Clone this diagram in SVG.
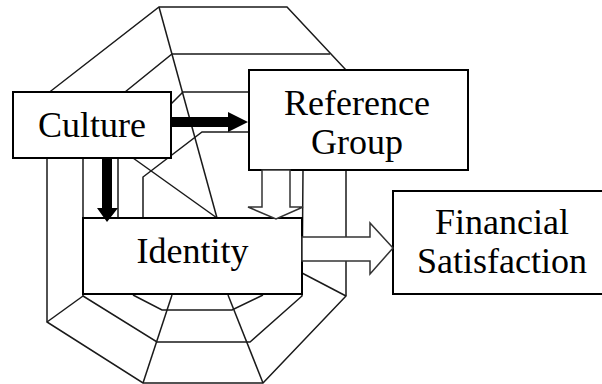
<svg xmlns="http://www.w3.org/2000/svg" width="602" height="384" viewBox="0 0 602 384">
<defs>
<style>
.web{fill:none;stroke:#1a1a1a;stroke-width:1.5;stroke-linejoin:miter}
.box{fill:#fff;stroke:#000;stroke-width:2}
.lbl{font-size:36px;fill:#000;text-anchor:middle}
.solid{fill:#000;stroke:none}
.hollow{fill:#fff;stroke:#333;stroke-width:1.5;stroke-linejoin:miter}
</style>
</defs>
<rect width="602" height="384" fill="#fff"/>
<g id="web">
<polygon class="web" points="159,7 287,7 346,70 346,296 263,383 143,383 47,322 47,94"/>
<polyline class="web" points="330,54 172,54 83,126 83,296 157,342 250,342 302,296 303,170"/>
<polyline class="web" points="249,92 183,92 172,103 118,152 118,218"/>
<polyline class="web" points="133,295 162,310 232,310 263,295"/>
<polyline class="web" points="249,132 202,132 143,177 143,218"/>
<line class="web" x1="159" y1="7" x2="217" y2="218"/>
<line class="web" x1="133" y1="158" x2="217" y2="218"/>
<line class="web" x1="172" y1="295" x2="143" y2="383"/>
<line class="web" x1="228" y1="295" x2="263" y2="383"/>
<line class="web" x1="83" y1="296" x2="47" y2="322"/>
<line class="web" x1="302" y1="273" x2="346" y2="296"/>
</g>
<g id="culture">
<rect class="box" x="13" y="92" width="158" height="66"/>
<text class="lbl" font-family="'Liberation Serif', 'Times New Roman', 'DejaVu Serif', serif" x="92" y="137">Culture</text>
</g>
<g id="reference-group">
<rect class="box" x="249" y="70" width="219" height="100"/>
<text class="lbl" font-family="'Liberation Serif', 'Times New Roman', 'DejaVu Serif', serif" x="357" y="115">Reference</text>
<text class="lbl" font-family="'Liberation Serif', 'Times New Roman', 'DejaVu Serif', serif" x="357" y="154">Group</text>
</g>
<g id="identity">
<rect class="box" x="83" y="218" width="219" height="76"/>
<text class="lbl" font-family="'Liberation Serif', 'Times New Roman', 'DejaVu Serif', serif" x="192.5" y="263">Identity</text>
</g>
<g id="financial-satisfaction">
<rect class="box" x="393" y="191" width="230" height="103"/>
<text class="lbl" font-family="'Liberation Serif', 'Times New Roman', 'DejaVu Serif', serif" x="502" y="234">Financial</text>
<text class="lbl" font-family="'Liberation Serif', 'Times New Roman', 'DejaVu Serif', serif" x="502" y="273">Satisfaction</text>
</g>
<g id="connectors">
<polygon class="solid" points="171,117 228,117 228,112 248,122 228,132 228,127 171,127"/>
<polygon class="solid" points="102,158 112,158 112,208 118,208 107,222 97,208 102,208"/>
<polygon class="hollow" points="262,170 290,170 290,207 303,207 276,219 248,207 262,207"/>
<polygon class="hollow" points="302,237 370,237 370,223 393,248 370,274 370,261 302,261"/>
</g>
</svg>
